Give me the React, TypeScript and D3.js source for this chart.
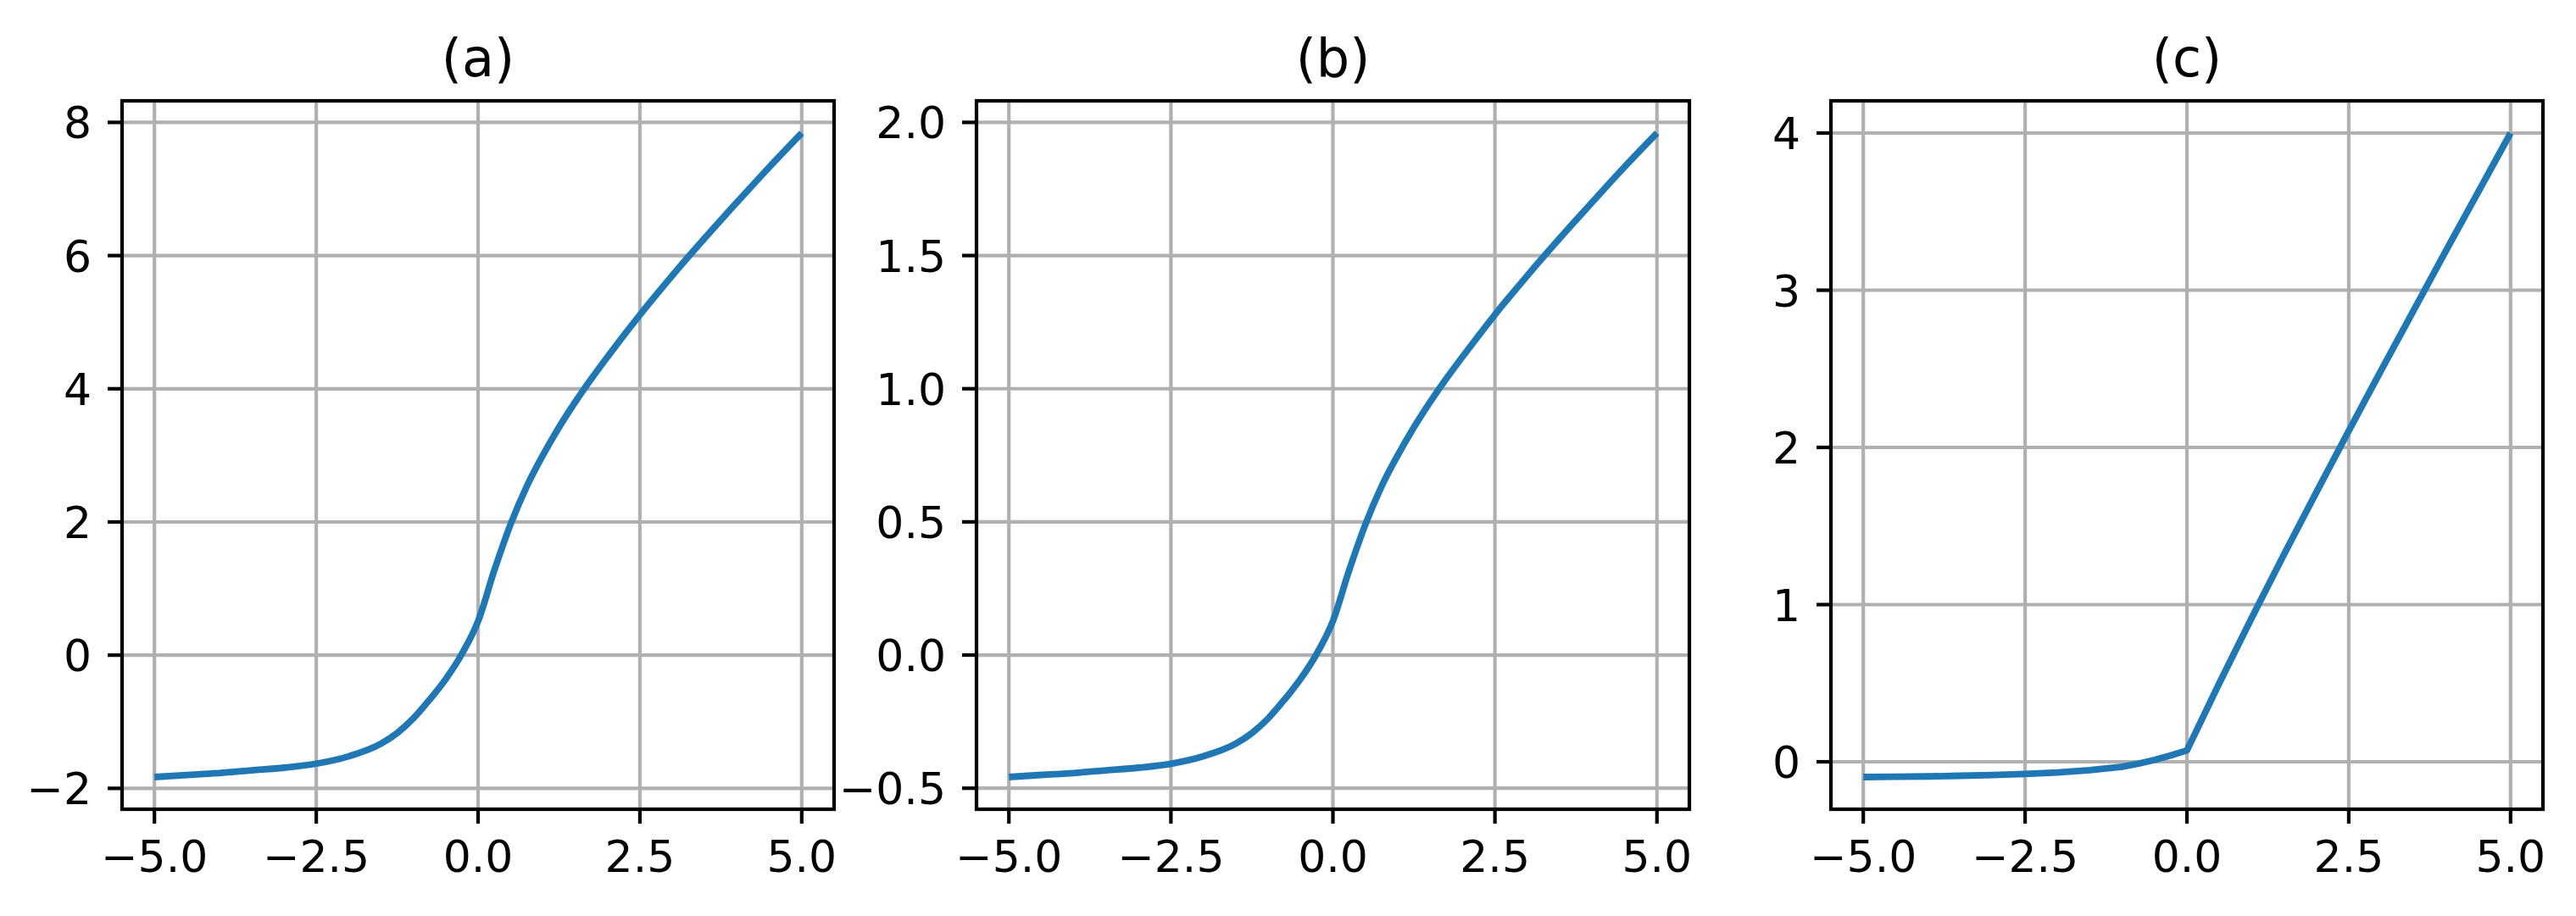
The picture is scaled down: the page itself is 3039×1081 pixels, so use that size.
import React from "react";
import * as d3 from "d3";

// ---- data ----
const xA = [-5, -4.5, -4, -3.5, -3, -2.5, -2, -1.5, -1.25, -1, -0.75, -0.5, -0.25, 0, 0.25, 0.5, 0.75, 1, 1.25, 1.5, 1.75, 2, 2.25, 2.5, 3, 3.5, 4, 4.5, 5];
const yA = [-1.83, -1.8, -1.77, -1.73, -1.69, -1.63, -1.52, -1.33, -1.17, -0.95, -0.67, -0.36, 0.02, 0.51, 1.27, 1.96, 2.53, 3.0, 3.42, 3.8, 4.15, 4.48, 4.8, 5.11, 5.7, 6.26, 6.8, 7.33, 7.84];
const yB = [-0.458, -0.45, -0.443, -0.433, -0.423, -0.408, -0.38, -0.333, -0.293, -0.238, -0.168, -0.09, 0.005, 0.128, 0.318, 0.49, 0.633, 0.75, 0.855, 0.95, 1.038, 1.12, 1.2, 1.278, 1.425, 1.565, 1.7, 1.833, 1.96];
const xC = [-5, -4.5, -4, -3.5, -3, -2.5, -2, -1.5, -1, -0.75, -0.5, -0.25, 0, 0.5, 1, 1.5, 2, 2.5, 3, 3.5, 4, 4.5, 5];
const yC = [-0.097, -0.095, -0.093, -0.089, -0.084, -0.077, -0.068, -0.053, -0.032, -0.012, 0.012, 0.04, 0.072, 0.5, 0.915, 1.32, 1.715, 2.105, 2.49, 2.87, 3.25, 3.625, 4.0];

const titles = ["(a)", "(b)", "(c)"];
const xTicks = [-5, -2.5, 0, 2.5, 5];
const xTickLabels = ["−5.0", "−2.5", "0.0", "2.5", "5.0"];
const yTicksA = [-2, 0, 2, 4, 6, 8];
const yTickLabelsA = ["−2", "0", "2", "4", "6", "8"];
const yTicksB = [-0.5, 0, 0.5, 1, 1.5, 2];
const yTickLabelsB = ["−0.5", "0.0", "0.5", "1.0", "1.5", "2.0"];
const yTicksC = [0, 1, 2, 3, 4];
const yTickLabelsC = ["0", "1", "2", "3", "4"];

const W = 3039;
const H = 1081;
const TOP = 119;
const BOTTOM = 955;
const panelsX: [number, number][] = [
  [144, 984],
  [1152, 1993],
  [2160, 3000],
];

const FONT = "'DejaVu Sans', sans-serif";
const TICK_FS = 52;
const TITLE_FS = 62;
const LW_AX = 4.2;
const TICK_LEN = 17;
const GRID = "#b0b0b0";
const LINE = "#1f77b4";

function margin(vals: number[]): [number, number] {
  const lo = d3.min(vals)!;
  const hi = d3.max(vals)!;
  const m = (hi - lo) * 0.05;
  return [lo - m, hi + m];
}

function Panel(props: {
  idx: number;
  xs: number[];
  ys: number[];
  yTicks: number[];
  yLabels: string[];
  smooth: boolean;
}) {
  const { idx, xs, ys, yTicks, yLabels, smooth } = props;
  const [x0, x1] = panelsX[idx];
  const xScale = d3.scaleLinear().domain(margin(xs)).range([x0, x1]);
  const yScale = d3.scaleLinear().domain(margin(ys)).range([BOTTOM, TOP]);
  const pts = xs.map((x, i) => [x, ys[i]] as [number, number]);
  const line = d3
    .line<[number, number]>()
    .x((d) => xScale(d[0]))
    .y((d) => yScale(d[1]))
    .curve(smooth ? d3.curveMonotoneX : d3.curveLinear);
  return (
    <g>
      {xTicks.map((t) => (
        <line key={"gx" + t} x1={xScale(t)} x2={xScale(t)} y1={TOP} y2={BOTTOM} stroke={GRID} strokeWidth={LW_AX} />
      ))}
      {yTicks.map((t) => (
        <line key={"gy" + t} x1={x0} x2={x1} y1={yScale(t)} y2={yScale(t)} stroke={GRID} strokeWidth={LW_AX} />
      ))}
      <path d={line(pts) || ""} fill="none" stroke={LINE} strokeWidth={7.8} strokeLinejoin="round" strokeLinecap="butt" />
      <rect x={x0} y={TOP} width={x1 - x0} height={BOTTOM - TOP} fill="none" stroke="#000" strokeWidth={LW_AX} strokeLinejoin="miter" />
      {xTicks.map((t, i) => (
        <g key={"tx" + t}>
          <line x1={xScale(t)} x2={xScale(t)} y1={BOTTOM} y2={BOTTOM + TICK_LEN} stroke="#000" strokeWidth={LW_AX} />
          <text x={xScale(t)} y={1029} textAnchor="middle" fontFamily={FONT} fontSize={TICK_FS} fill="#000">
            {xTickLabels[i]}
          </text>
        </g>
      ))}
      {yTicks.map((t, i) => (
        <g key={"ty" + t}>
          <line x1={x0 - TICK_LEN} x2={x0} y1={yScale(t)} y2={yScale(t)} stroke="#000" strokeWidth={LW_AX} />
          <text x={x0 - 36} y={yScale(t) + 19} textAnchor="end" fontFamily={FONT} fontSize={TICK_FS} fill="#000">
            {yLabels[i]}
          </text>
        </g>
      ))}
      <text x={(x0 + x1) / 2} y={90} textAnchor="middle" fontFamily={FONT} fontSize={TITLE_FS} fill="#000">
        {titles[idx]}
      </text>
    </g>
  );
}

export default function App() {
  return (
    <svg
      width={W}
      height={H}
      viewBox={`0 0 ${W} ${H}`}
      style={{ position: "absolute", left: 0, top: 0, background: "#fff" }}
    >
      <rect x={0} y={0} width={W} height={H} fill="#fff" />
      <Panel idx={0} xs={xA} ys={yA} yTicks={yTicksA} yLabels={yTickLabelsA} smooth={true} />
      <Panel idx={1} xs={xA} ys={yB} yTicks={yTicksB} yLabels={yTickLabelsB} smooth={true} />
      <Panel idx={2} xs={xC} ys={yC} yTicks={yTicksC} yLabels={yTickLabelsC} smooth={false} />
    </svg>
  );
}
